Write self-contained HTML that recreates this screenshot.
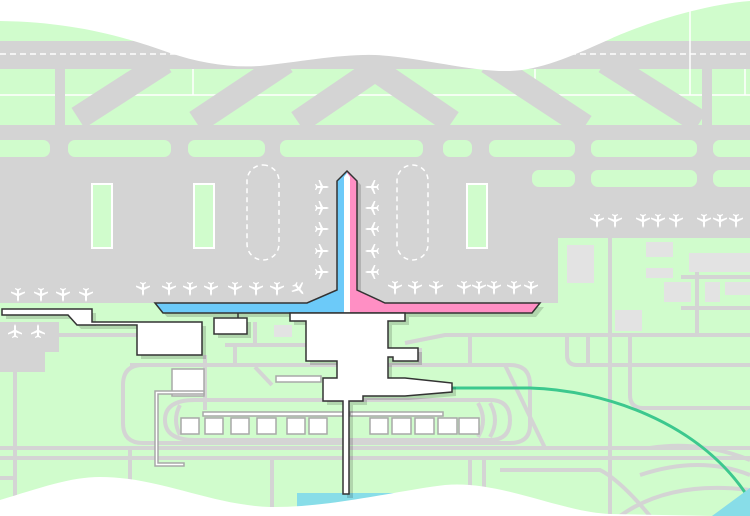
<!DOCTYPE html>
<html><head><meta charset="utf-8"><style>html,body{margin:0;padding:0;background:#fff}svg{display:block}</style></head>
<body>
<svg width="750" height="516" viewBox="0 0 750 516" xmlns="http://www.w3.org/2000/svg">
<defs>
<path id="pl" d="M0,7 L1,5 L1,1 L7,-2 L7,-3.5 L1,-1.5 L1,-4.5 L3,-6 L3,-7 L0,-6 L-3,-7 L-3,-6 L-1,-4.5 L-1,-1.5 L-7,-3.5 L-7,-2 L-1,1 L-1,5 Z" fill="#fff"/>
<clipPath id="band"><rect x="0" y="69" width="750" height="56"/></clipPath>
</defs>
<rect width="750" height="516" fill="#d0fccc"/>
<rect x="0" y="41" width="750" height="28" fill="#d4d4d4"/>
<line x1="0" y1="54" x2="750" y2="54" stroke="#fff" stroke-width="1.5" stroke-dasharray="6,4"/>
<line x1="0" y1="95" x2="750" y2="95" stroke="#fff" stroke-width="1.5"/>
<line x1="193" y1="69" x2="193" y2="95" stroke="#fff" stroke-width="1.5"/>
<line x1="535" y1="69" x2="535" y2="95" stroke="#fff" stroke-width="1.5"/>
<line x1="690" y1="10" x2="690" y2="95" stroke="#fff" stroke-width="1.5"/>
<line x1="745" y1="69" x2="745" y2="95" stroke="#fff" stroke-width="1.5"/>
<g clip-path="url(#band)" stroke="#d4d4d4" stroke-width="24">
<line x1="165" y1="62" x2="78" y2="118"/>
<line x1="286" y1="62" x2="196" y2="122"/>
<line x1="386" y1="62" x2="298" y2="122"/>
<line x1="364" y1="62" x2="452" y2="122"/>
<line x1="488" y1="62" x2="585" y2="126"/>
<line x1="605" y1="62" x2="700" y2="122"/>
</g>
<rect x="55" y="69" width="10" height="56" fill="#d4d4d4"/>
<rect x="702" y="69" width="10" height="56" fill="#d4d4d4"/>
<rect x="0" y="125" width="750" height="113" fill="#d4d4d4"/>
<rect x="0" y="238" width="558" height="65" fill="#d4d4d4"/>
<rect x="0" y="322" width="59" height="30" fill="#d4d4d4"/>
<rect x="0" y="352" width="45" height="20" fill="#d4d4d4"/>
<g fill="#d0fccc">
<rect x="-10" y="140" width="60" height="17" rx="7"/>
<rect x="68" y="140" width="103" height="17" rx="7"/>
<rect x="188" y="140" width="77" height="17" rx="7"/>
<rect x="280" y="140" width="143" height="17" rx="7"/>
<rect x="443" y="140" width="29" height="17" rx="7"/>
<rect x="489" y="140" width="86" height="17" rx="7"/>
<rect x="591" y="140" width="106" height="17" rx="7"/>
<rect x="713" y="140" width="50" height="17" rx="7"/>
<rect x="532" y="170" width="43" height="17" rx="7"/>
<rect x="591" y="170" width="106" height="17" rx="7"/>
<rect x="713" y="170" width="50" height="17" rx="7"/>
</g>
<g fill="#d0fccc" stroke="#fff" stroke-width="2">
<rect x="92" y="184" width="20" height="64"/>
<rect x="194" y="184" width="20" height="64"/>
<rect x="467" y="184" width="20" height="64"/>
</g>
<g fill="none" stroke="#fff" stroke-width="1.5" stroke-dasharray="5,4">
<rect x="247" y="165" width="32" height="95" rx="16"/>
<rect x="397" y="165" width="31" height="95" rx="15.5"/>
</g>
<g fill="#e3e3e3">
<rect x="567" y="245" width="27" height="38"/>
<rect x="646" y="242" width="27" height="15"/>
<rect x="646" y="268" width="27" height="10"/>
<rect x="689" y="253" width="61" height="19"/>
<rect x="664" y="282" width="27" height="20"/>
<rect x="705" y="282" width="15" height="20"/>
<rect x="725" y="282" width="25" height="13"/>
<rect x="615" y="310" width="27" height="21"/>
<rect x="274" y="325" width="18" height="12"/>
</g>
<g fill="none" stroke="#d4d4d4" stroke-width="4">
<line x1="610" y1="238" x2="610" y2="516"/>
<line x1="681" y1="277" x2="750" y2="277"/>
<line x1="697" y1="272" x2="697" y2="335"/>
<line x1="681" y1="308" x2="750" y2="308"/>
<path d="M405,343 L445,335 L750,335"/>
<path d="M567,335 L567,355 Q567,365 577,365 L750,365"/>
<line x1="588" y1="335" x2="588" y2="365"/>
<path d="M630,335 L630,395 Q630,408 643,408 L750,408"/>
<line x1="0" y1="448" x2="750" y2="448"/>
<line x1="0" y1="458" x2="750" y2="458"/>
<line x1="15" y1="372" x2="15" y2="516"/>
<line x1="0" y1="478" x2="15" y2="478"/>
<line x1="130" y1="448" x2="130" y2="490"/>
<line x1="272" y1="458" x2="272" y2="516"/>
<line x1="470" y1="458" x2="470" y2="495"/>
<line x1="484" y1="458" x2="484" y2="495"/>
<path d="M130,365 L510,365 Q530,365 530,385 L530,425 Q530,443 510,443 L143,443 Q123,443 123,423 L123,385 Q123,365 143,365"/>
<path d="M195,400 L490,400 Q510,400 510,420 Q510,440 490,440 L195,440 Q165,440 165,420 Q165,400 195,400"/>
<path d="M180,405 Q172,420 180,435 M490,403 Q500,420 490,437 M478,403 Q488,420 478,437"/>
<line x1="58" y1="335" x2="137" y2="335"/>
<line x1="235" y1="345" x2="235" y2="365"/>
<line x1="225" y1="345" x2="306" y2="345"/>
<line x1="255" y1="322" x2="255" y2="345"/>
<line x1="255" y1="367" x2="272" y2="385"/>
<line x1="205" y1="355" x2="205" y2="410"/>
<path d="M505,365 L545,448"/>
<path d="M650,448 Q700,440 750,460 M640,475 Q700,455 750,475 M620,516 Q670,480 750,490 M500,470 L600,470 Q620,480 650,516"/>
<line x1="420" y1="348" x2="420" y2="365"/>
<line x1="470" y1="335" x2="470" y2="365"/>
</g>
<g fill="#fff" stroke="#a8a8a8" stroke-width="1.5">
<rect x="172" y="369" width="32" height="27"/>
<rect x="181" y="418" width="18" height="16"/>
<rect x="205" y="418" width="18" height="16"/>
<rect x="231" y="418" width="18" height="16"/>
<rect x="257" y="418" width="19" height="16"/>
<rect x="287" y="418" width="18" height="16"/>
<rect x="309" y="418" width="18" height="16"/>
<rect x="370" y="418" width="18" height="16"/>
<rect x="392" y="418" width="19" height="16"/>
<rect x="415" y="418" width="19" height="16"/>
<rect x="438" y="418" width="19" height="16"/>
<rect x="459" y="418" width="20" height="16"/>
<rect x="276" y="376" width="45" height="6"/>
<rect x="203" y="412" width="140" height="4"/>
<rect x="350" y="412" width="93" height="4"/>
<path d="M204,391 L155,391 L155,466 L184,466 L184,463 L158,463 L158,394 L204,394 Z"/>
</g>
<rect x="297" y="493" width="103" height="23" fill="#88dde8"/>
<path d="M452,388 L530,388 C600,390 700,420 750,500" fill="none" stroke="#3cc88e" stroke-width="3"/>
<g fill="#000" opacity="0.15" transform="translate(4,4)">
<path d="M2,309 L92,309 L92,322 L202,322 L202,355 L137,355 L137,325 L77,325 L68,315 L2,315 Z"/>
<rect x="214" y="318" width="33" height="16"/>
<path d="M290,313 L405,313 L405,321 L388,321 L388,348 L418,348 L418,361 L388,361 L388,378 L405,378 L452,383 L452,392 L405,396 L363,396 L363,401 L349,401 L349,494 L343,494 L343,401 L323,401 L323,378 L337,378 L337,361 L306,361 L306,321 L290,321 Z"/>
<path d="M347,171 L357,181 L357,290 L385,303 L540,303 L532,313 L163,313 L155,303 L307,303 L337,290 L337,181 Z"/>
</g>
<path d="M347,171 L337,181 L337,290 L307,303 L155,303 L163,313 L347,313 Z" fill="#6ccaf9"/>
<path d="M347,171 L357,181 L357,290 L385,303 L540,303 L532,313 L347,313 Z" fill="#ff8fc4"/>
<path d="M347,173 L344,177 L344,313 L350,313 L350,177 Z" fill="#fff"/>
<path d="M347,171 L357,181 L357,290 L385,303 L540,303 L532,313 L163,313 L155,303 L307,303 L337,290 L337,181 Z" fill="none" stroke="#333" stroke-width="1.5"/>
<g fill="#fff" stroke="#333" stroke-width="1.5">
<path d="M2,309 L92,309 L92,322 L202,322 L202,355 L137,355 L137,325 L77,325 L68,315 L2,315 Z"/>
<rect x="214" y="318" width="33" height="16"/>
<line x1="238" y1="313" x2="238" y2="318"/>
<path d="M290,313 L405,313 L405,321 L388,321 L388,348 L418,348 L418,361 L393,361 L393,357 L388,357 L388,378 L405,378 L452,383 L452,392 L405,396 L363,396 L363,401 L349,401 L349,494 L343,494 L343,401 L323,401 L323,378 L337,378 L337,361 L306,361 L306,321 L290,321 Z"/>
</g>
<g>
<use href="#pl" x="18" y="295"/><use href="#pl" x="41" y="295"/><use href="#pl" x="63" y="295"/><use href="#pl" x="86" y="295"/>
<use href="#pl" x="143" y="289"/><use href="#pl" x="169" y="289"/><use href="#pl" x="190" y="289"/><use href="#pl" x="211" y="289"/><use href="#pl" x="235" y="289"/><use href="#pl" x="256" y="289"/><use href="#pl" x="277" y="289"/>
<use href="#pl" transform="translate(299,289) rotate(-40)"/>
<use href="#pl" x="395" y="288"/><use href="#pl" x="415" y="288"/><use href="#pl" x="436" y="288"/>
<use href="#pl" x="464" y="288"/><use href="#pl" x="479" y="288"/><use href="#pl" x="494" y="288"/><use href="#pl" x="514" y="288"/><use href="#pl" x="531" y="288"/>
<use href="#pl" x="597" y="221"/><use href="#pl" x="615" y="221"/><use href="#pl" x="643" y="221"/><use href="#pl" x="658" y="221"/><use href="#pl" x="676" y="221"/><use href="#pl" x="704" y="221"/><use href="#pl" x="720" y="221"/><use href="#pl" x="736" y="221"/>
<use href="#pl" transform="translate(15,331) rotate(180)"/><use href="#pl" transform="translate(38,331) rotate(180)"/>
<use href="#pl" transform="translate(322,187) rotate(-90)"/><use href="#pl" transform="translate(322,208) rotate(-90)"/><use href="#pl" transform="translate(322,229) rotate(-90)"/><use href="#pl" transform="translate(322,251) rotate(-90)"/><use href="#pl" transform="translate(322,272) rotate(-90)"/>
<use href="#pl" transform="translate(372,187) rotate(90)"/><use href="#pl" transform="translate(372,208) rotate(90)"/><use href="#pl" transform="translate(372,229) rotate(90)"/><use href="#pl" transform="translate(372,251) rotate(90)"/><use href="#pl" transform="translate(372,272) rotate(90)"/>
</g>
<path d="M0,0 L750,0 L750,1 C700,5 640,25 608,40 C570,57 540,70 510,71 C470,72 420,57 375,55 C340,54 300,62 260,66 C230,68 200,63 170,53 C120,35 70,22 0,21 Z" fill="#fff"/>
<path d="M0,500 C40,488 70,477 100,477 C160,477 210,505 270,507 C330,508 400,490 445,485 C500,480 560,512 610,514 L715,516 L0,516 Z" fill="#fff"/>
<path d="M712,516 L750,488 L750,516 Z" fill="#88dde8"/>
</svg>
</body></html>
